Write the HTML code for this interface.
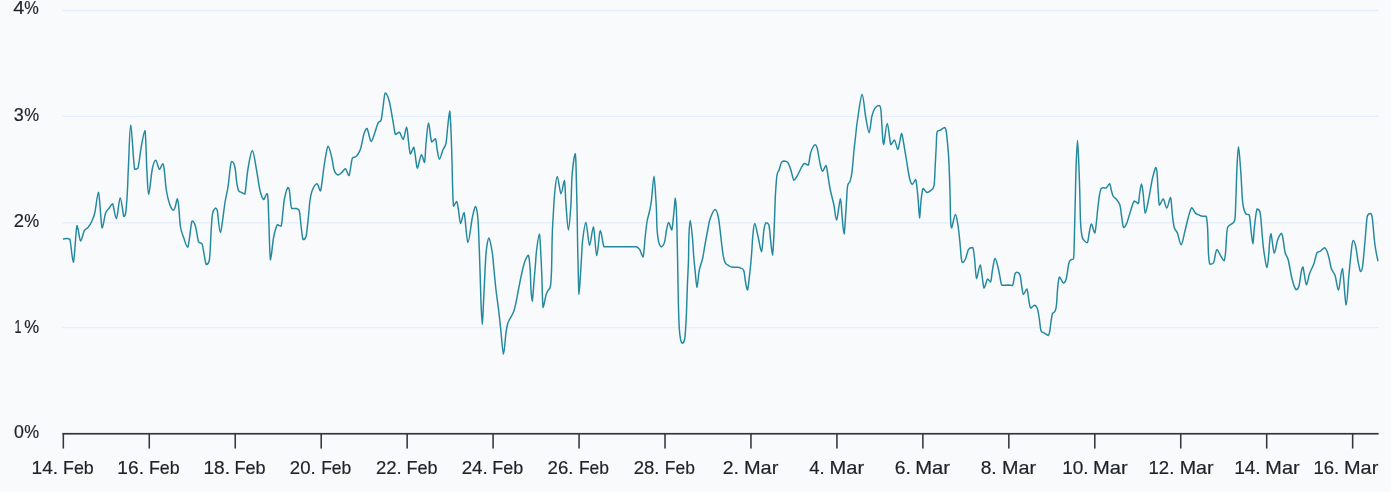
<!DOCTYPE html>
<html lang="en"><head><meta charset="utf-8"><title>Chart</title>
<style>
html,body{margin:0;padding:0;background:#f9fafc;overflow:hidden}
svg{display:block;will-change:transform}
text{font-family:"Liberation Sans",sans-serif;font-size:18.5px;fill:#1d2329;stroke:#1d2329;stroke-width:0.2px}
</style></head><body>
<svg width="1391" height="492" viewBox="0 0 1391 492">
<rect width="1391" height="492" fill="#f9fafc"/>
<rect x="62.5" y="9.85" width="1316" height="1.3" fill="#e5eefb"/>
<rect x="62.5" y="115.75" width="1316" height="1.3" fill="#e5eefb"/>
<rect x="62.5" y="222.20" width="1316" height="1.3" fill="#e5eefb"/>
<rect x="62.5" y="326.95" width="1316" height="1.3" fill="#e5eefb"/>
<text x="13.36" y="13.90" textLength="11.08" lengthAdjust="spacingAndGlyphs">4</text><text x="24.30" y="13.90" textLength="14.51" lengthAdjust="spacingAndGlyphs">%</text>
<text x="13.75" y="121.10" textLength="10.01" lengthAdjust="spacingAndGlyphs">3</text><text x="24.30" y="121.10" textLength="14.89" lengthAdjust="spacingAndGlyphs">%</text>
<text x="13.76" y="227.00" textLength="10.26" lengthAdjust="spacingAndGlyphs">2</text><text x="24.30" y="227.00" textLength="14.89" lengthAdjust="spacingAndGlyphs">%</text>
<text x="14.61" y="333.00" textLength="6.97" lengthAdjust="spacingAndGlyphs">1</text><text x="24.30" y="333.00" textLength="14.89" lengthAdjust="spacingAndGlyphs">%</text>
<text x="14.10" y="438.10" textLength="9.88" lengthAdjust="spacingAndGlyphs">0</text><text x="24.30" y="438.10" textLength="14.89" lengthAdjust="spacingAndGlyphs">%</text>
<rect x="62.5" y="432.9" width="1316.1" height="1.7" fill="#33373c"/>
<rect x="62.55" y="433" width="1.55" height="15.55" fill="#33373c"/>
<rect x="148.50" y="433" width="1.55" height="15.55" fill="#33373c"/>
<rect x="234.46" y="433" width="1.55" height="15.55" fill="#33373c"/>
<rect x="320.42" y="433" width="1.55" height="15.55" fill="#33373c"/>
<rect x="406.37" y="433" width="1.55" height="15.55" fill="#33373c"/>
<rect x="492.32" y="433" width="1.55" height="15.55" fill="#33373c"/>
<rect x="578.28" y="433" width="1.55" height="15.55" fill="#33373c"/>
<rect x="664.24" y="433" width="1.55" height="15.55" fill="#33373c"/>
<rect x="750.19" y="433" width="1.55" height="15.55" fill="#33373c"/>
<rect x="836.15" y="433" width="1.55" height="15.55" fill="#33373c"/>
<rect x="922.10" y="433" width="1.55" height="15.55" fill="#33373c"/>
<rect x="1008.06" y="433" width="1.55" height="15.55" fill="#33373c"/>
<rect x="1094.01" y="433" width="1.55" height="15.55" fill="#33373c"/>
<rect x="1179.96" y="433" width="1.55" height="15.55" fill="#33373c"/>
<rect x="1265.92" y="433" width="1.55" height="15.55" fill="#33373c"/>
<rect x="1351.88" y="433" width="1.55" height="15.55" fill="#33373c"/>
<text x="31.54" y="474" textLength="26.52" lengthAdjust="spacingAndGlyphs">14.</text><text x="63.03" y="474" textLength="30.72" lengthAdjust="spacingAndGlyphs">Feb</text>
<text x="117.35" y="474" textLength="26.60" lengthAdjust="spacingAndGlyphs">16.</text><text x="148.88" y="474" textLength="30.73" lengthAdjust="spacingAndGlyphs">Feb</text>
<text x="203.40" y="474" textLength="26.59" lengthAdjust="spacingAndGlyphs">18.</text><text x="234.53" y="474" textLength="31.14" lengthAdjust="spacingAndGlyphs">Feb</text>
<text x="289.88" y="474" textLength="25.90" lengthAdjust="spacingAndGlyphs">20.</text><text x="321.20" y="474" textLength="30.12" lengthAdjust="spacingAndGlyphs">Feb</text>
<text x="375.94" y="474" textLength="25.80" lengthAdjust="spacingAndGlyphs">22.</text><text x="406.46" y="474" textLength="31.13" lengthAdjust="spacingAndGlyphs">Feb</text>
<text x="461.65" y="474" textLength="26.20" lengthAdjust="spacingAndGlyphs">24.</text><text x="492.28" y="474" textLength="30.96" lengthAdjust="spacingAndGlyphs">Feb</text>
<text x="547.60" y="474" textLength="25.92" lengthAdjust="spacingAndGlyphs">26.</text><text x="578.93" y="474" textLength="30.07" lengthAdjust="spacingAndGlyphs">Feb</text>
<text x="633.73" y="474" textLength="25.80" lengthAdjust="spacingAndGlyphs">28.</text><text x="664.80" y="474" textLength="30.06" lengthAdjust="spacingAndGlyphs">Feb</text>
<text x="722.80" y="474" textLength="16.11" lengthAdjust="spacingAndGlyphs">2.</text><text x="743.95" y="474" textLength="34.39" lengthAdjust="spacingAndGlyphs">Mar</text>
<text x="809.32" y="474" textLength="15.41" lengthAdjust="spacingAndGlyphs">4.</text><text x="829.60" y="474" textLength="34.62" lengthAdjust="spacingAndGlyphs">Mar</text>
<text x="894.83" y="474" textLength="16.13" lengthAdjust="spacingAndGlyphs">6.</text><text x="915.25" y="474" textLength="34.86" lengthAdjust="spacingAndGlyphs">Mar</text>
<text x="980.71" y="474" textLength="16.00" lengthAdjust="spacingAndGlyphs">8.</text><text x="1001.90" y="474" textLength="34.10" lengthAdjust="spacingAndGlyphs">Mar</text>
<text x="1062.16" y="474" textLength="26.42" lengthAdjust="spacingAndGlyphs">10.</text><text x="1093.05" y="474" textLength="34.63" lengthAdjust="spacingAndGlyphs">Mar</text>
<text x="1148.51" y="474" textLength="25.91" lengthAdjust="spacingAndGlyphs">12.</text><text x="1179.70" y="474" textLength="33.87" lengthAdjust="spacingAndGlyphs">Mar</text>
<text x="1234.17" y="474" textLength="26.52" lengthAdjust="spacingAndGlyphs">14.</text><text x="1265.35" y="474" textLength="34.25" lengthAdjust="spacingAndGlyphs">Mar</text>
<text x="1313.38" y="474" textLength="25.85" lengthAdjust="spacingAndGlyphs">16.</text><text x="1344.00" y="474" textLength="34.29" lengthAdjust="spacingAndGlyphs">Mar</text>
<path d="M63.00 239.20 C63.55 239.10 65.15 238.60 66.30 238.60 C67.45 238.63 68.72 238.60 69.90 239.40 C71.08 243.34 72.22 262.25 73.40 262.25 C74.58 259.95 75.80 229.14 77.00 225.60 C78.20 225.60 79.38 240.17 80.60 241.00 C81.82 241.00 83.07 232.85 84.30 230.60 C85.53 228.35 86.78 228.98 88.00 227.50 C89.22 226.02 90.45 224.20 91.60 221.70 C92.75 219.20 93.75 217.41 94.90 212.50 C96.05 207.59 97.30 192.25 98.50 192.25 C99.70 194.85 100.92 224.64 102.10 228.10 C103.28 228.10 104.40 216.35 105.60 213.00 C106.80 209.65 108.13 209.54 109.30 208.00 C110.47 206.46 111.42 203.75 112.60 203.75 C113.78 205.52 115.13 218.60 116.40 218.60 C117.67 217.64 118.97 198.35 120.20 198.00 C121.43 198.00 122.90 213.92 123.80 216.50 C124.70 216.50 125.02 216.50 125.60 213.50 C126.18 209.58 126.82 201.08 127.30 193.00 C127.78 184.92 127.93 176.33 128.50 165.00 C129.07 153.67 129.68 125.00 130.70 125.00 C131.72 125.70 133.38 162.05 134.60 169.20 C135.82 169.20 136.87 169.20 138.00 167.90 C139.13 164.03 140.23 152.22 141.40 146.00 C142.57 139.78 144.08 130.60 145.00 130.60 C145.92 134.77 146.28 160.37 146.90 171.00 C147.52 181.63 147.80 194.40 148.70 194.40 C149.60 194.07 151.13 174.69 152.30 169.00 C153.47 163.31 154.52 160.25 155.70 160.25 C156.88 160.30 158.22 168.72 159.40 169.30 C160.58 169.30 161.97 163.75 162.80 163.75 C163.63 164.03 163.82 166.62 164.40 171.00 C164.98 175.38 165.43 184.50 166.30 190.00 C167.17 195.50 168.45 200.62 169.60 204.00 C170.75 207.38 172.27 209.75 173.20 210.25 C174.13 210.25 174.52 208.92 175.20 207.00 C175.88 205.08 176.70 198.75 177.30 198.75 C177.90 198.83 178.27 202.79 178.80 207.50 C179.33 212.21 179.67 221.90 180.50 227.00 C181.33 232.10 182.58 234.72 183.80 238.10 C185.02 241.47 186.43 247.25 187.80 247.25 C189.17 244.42 190.73 224.64 192.00 221.10 C193.27 221.10 194.30 222.53 195.40 226.00 C196.50 229.47 197.50 238.93 198.60 241.90 C199.70 243.80 201.13 242.03 202.00 243.80 C202.87 245.57 203.10 249.07 203.80 252.50 C204.50 255.93 205.27 263.15 206.20 264.40 C207.13 264.40 208.57 264.40 209.40 260.00 C210.23 254.27 210.67 237.75 211.20 230.00 C211.73 222.25 211.90 217.15 212.60 213.50 C213.30 209.85 214.62 208.60 215.40 208.10 C216.18 208.10 216.47 208.10 217.30 210.50 C218.13 214.57 219.12 232.50 220.40 232.50 C221.68 231.17 223.72 210.21 225.00 202.50 C226.28 194.79 227.23 192.00 228.10 186.25 C228.97 180.50 229.59 172.12 230.20 168.00 C230.81 163.88 230.97 161.67 231.75 161.50 C232.53 161.50 234.07 163.50 234.90 167.00 C235.73 170.50 236.13 178.57 236.75 182.50 C237.37 186.43 237.76 188.93 238.60 190.60 C239.44 192.27 240.75 191.93 241.80 192.50 C242.85 193.07 243.87 194.00 244.90 194.00 C245.93 190.04 246.75 175.98 248.00 168.75 C249.25 161.52 250.94 150.60 252.40 150.60 C253.86 151.02 255.50 164.68 256.75 171.25 C258.00 177.82 258.76 185.29 259.90 190.00 C261.04 194.71 262.46 198.88 263.60 199.50 C264.74 199.50 266.02 193.83 266.75 193.75 C267.48 193.75 267.62 193.75 268.00 199.00 C268.38 204.38 268.58 215.83 269.00 226.00 C269.42 236.17 269.73 258.08 270.50 260.00 C271.27 260.00 272.45 243.38 273.60 237.50 C274.75 231.62 276.15 226.62 277.40 224.75 C278.65 224.75 280.17 226.25 281.10 226.25 C282.03 224.00 282.45 215.79 283.00 211.25 C283.55 206.71 283.61 202.96 284.40 199.00 C285.19 195.04 286.94 189.10 287.75 187.50 C288.56 187.50 288.79 187.50 289.25 189.40 C289.71 191.65 290.08 197.82 290.50 201.00 C290.92 204.18 290.82 207.25 291.75 208.50 C292.68 208.50 294.85 208.50 296.10 208.50 C297.35 208.85 298.42 208.50 299.25 210.60 C300.08 213.56 300.46 221.42 301.10 226.25 C301.74 231.08 302.27 237.93 303.10 239.60 C303.93 239.60 305.18 239.60 306.10 236.25 C307.02 232.15 307.97 220.88 308.60 215.00 C309.23 209.12 309.27 205.17 309.90 201.00 C310.53 196.83 311.22 192.88 312.40 190.00 C313.58 187.12 315.65 183.75 317.00 183.75 C318.35 183.92 319.29 191.00 320.50 191.00 C321.71 187.88 323.00 172.46 324.25 165.00 C325.50 157.54 326.75 147.50 328.00 146.25 C329.25 146.25 330.71 153.44 331.75 157.50 C332.79 161.56 333.21 167.68 334.25 170.60 C335.29 173.52 336.75 174.68 338.00 175.00 C339.25 175.00 340.50 173.54 341.75 172.50 C343.00 171.46 344.29 168.75 345.50 168.75 C346.71 169.27 347.85 175.60 349.00 175.60 C350.15 173.82 351.22 161.28 352.40 158.10 C353.58 156.50 354.85 157.75 356.10 156.50 C357.35 155.25 359.00 152.52 359.90 150.60 C360.80 148.68 360.77 147.92 361.50 145.00 C362.23 142.08 363.32 135.85 364.25 133.10 C365.18 130.35 365.96 128.50 367.10 128.50 C368.24 129.88 369.80 140.73 371.10 141.40 C372.40 141.40 373.75 135.55 374.90 132.50 C376.05 129.45 376.97 125.18 378.00 123.10 C379.03 121.02 380.27 122.60 381.10 120.00 C381.93 117.40 382.31 111.98 383.00 107.50 C383.69 103.02 384.21 94.14 385.25 93.10 C386.29 93.10 387.96 96.56 389.25 101.25 C390.54 105.94 391.96 115.72 393.00 121.25 C394.04 126.78 394.43 132.58 395.50 134.40 C396.57 134.40 398.11 132.20 399.40 132.20 C400.69 133.03 402.05 139.40 403.25 139.40 C404.45 138.58 405.73 127.25 406.60 127.25 C407.48 127.56 407.87 136.79 408.50 141.25 C409.13 145.71 409.52 153.00 410.40 154.00 C411.27 154.00 412.82 147.25 413.75 147.25 C414.68 148.42 415.38 157.53 416.00 161.00 C416.62 164.47 416.60 168.10 417.50 168.10 C418.40 167.06 420.23 155.68 421.40 154.75 C422.57 154.75 423.73 162.50 424.50 162.50 C425.27 160.67 425.33 150.32 426.00 143.75 C426.67 137.18 427.57 123.41 428.50 123.10 C429.43 123.10 430.45 139.29 431.60 141.90 C432.75 141.90 434.46 138.75 435.40 138.75 C436.34 140.10 436.58 146.59 437.25 150.00 C437.92 153.41 438.46 159.20 439.40 159.20 C440.34 159.20 441.80 152.68 442.90 150.00 C444.00 147.32 445.17 147.27 446.00 143.10 C446.83 138.93 447.27 130.35 447.90 125.00 C448.52 119.65 449.23 111.00 449.75 111.00 C450.27 112.04 450.62 122.92 451.00 131.25 C451.38 139.58 451.73 151.83 452.00 161.00 C452.27 170.17 452.33 178.71 452.60 186.25 C452.87 193.79 452.93 203.71 453.60 206.25 C454.27 206.25 455.78 201.50 456.60 201.50 C457.42 202.12 457.83 206.33 458.50 210.00 C459.17 213.67 459.67 223.07 460.60 223.50 C461.53 223.50 462.88 212.60 464.10 212.60 C465.32 215.77 466.54 241.60 467.90 242.50 C469.26 242.50 471.00 224.00 472.25 218.00 C473.50 212.00 474.56 207.33 475.40 206.50 C476.24 206.50 476.78 209.29 477.30 213.00 C477.82 216.71 478.05 219.25 478.50 228.75 C478.95 238.25 479.58 257.71 480.00 270.00 C480.42 282.29 480.62 293.42 481.00 302.50 C481.38 311.58 481.88 324.50 482.30 324.50 C482.72 324.50 483.12 309.92 483.50 302.50 C483.88 295.08 484.25 287.08 484.60 280.00 C484.95 272.92 485.27 265.33 485.60 260.00 C485.93 254.67 486.05 251.67 486.60 248.00 C487.15 244.33 487.96 238.00 488.90 238.00 C489.84 238.75 491.40 247.17 492.25 252.50 C493.10 257.83 493.38 263.75 494.00 270.00 C494.62 276.25 495.25 283.50 496.00 290.00 C496.75 296.50 497.73 302.67 498.50 309.00 C499.27 315.33 499.77 320.50 500.60 328.00 C501.43 335.50 502.62 353.10 503.50 354.00 C504.38 354.00 505.22 338.40 505.90 333.40 C506.58 328.40 507.00 326.32 507.60 324.00 C508.20 321.68 508.52 321.50 509.50 319.50 C510.48 317.50 512.42 314.83 513.50 312.00 C514.58 309.17 515.07 306.79 516.00 302.50 C516.93 298.21 518.02 291.67 519.10 286.25 C520.18 280.83 521.45 274.38 522.50 270.00 C523.55 265.62 524.40 262.46 525.40 260.00 C526.40 257.54 527.70 255.25 528.50 255.25 C529.30 256.92 529.78 264.21 530.20 270.00 C530.62 275.79 530.66 284.79 531.00 290.00 C531.34 295.21 531.73 301.25 532.25 301.25 C532.77 299.58 533.58 286.04 534.10 280.00 C534.62 273.96 534.98 270.00 535.40 265.00 C535.82 260.00 535.93 255.17 536.60 250.00 C537.27 244.83 538.67 234.00 539.40 234.00 C540.13 235.25 540.60 250.67 541.00 257.50 C541.40 264.33 541.45 266.67 541.80 275.00 C542.15 283.33 542.40 304.17 543.10 307.50 C543.80 307.50 545.20 297.82 546.00 295.00 C546.80 292.18 547.17 292.06 547.90 290.60 C548.63 289.14 549.80 289.52 550.40 286.25 C551.00 282.98 551.19 279.54 551.50 271.00 C551.81 262.46 551.97 244.17 552.25 235.00 C552.53 225.83 552.78 223.08 553.20 216.00 C553.62 208.92 554.08 199.08 554.75 192.50 C555.42 185.92 556.21 176.50 557.25 176.50 C558.29 176.71 559.81 193.08 561.00 193.75 C562.19 193.75 563.57 180.50 564.40 180.50 C565.23 182.38 565.33 196.75 566.00 205.00 C566.67 213.25 567.58 230.00 568.40 230.00 C569.22 230.00 570.28 214.17 570.90 205.00 C571.52 195.83 571.38 183.54 572.10 175.00 C572.83 166.46 574.53 153.75 575.25 153.75 C575.97 154.75 576.09 171.46 576.40 181.00 C576.71 190.54 576.90 200.75 577.10 211.00 C577.30 221.25 577.43 233.33 577.60 242.50 C577.77 251.67 577.87 257.38 578.10 266.00 C578.33 274.62 578.58 293.12 579.00 294.20 C579.42 294.20 580.17 278.87 580.60 272.50 C581.03 266.13 581.27 261.33 581.60 256.00 C581.93 250.67 581.88 246.08 582.60 240.50 C583.32 234.92 584.73 222.50 585.90 222.50 C587.07 223.29 588.35 244.52 589.60 245.25 C590.85 245.25 592.21 226.90 593.40 226.90 C594.59 228.62 595.61 254.98 596.75 255.60 C597.89 255.60 599.06 232.08 600.25 230.60 C601.44 230.60 602.69 244.02 603.90 246.70 C605.11 246.70 606.30 246.70 607.50 246.70 C608.70 246.70 609.90 246.70 611.10 246.70 C612.30 246.70 613.50 246.70 614.70 246.70 C615.90 246.70 617.10 246.70 618.30 246.70 C619.50 246.70 620.70 246.70 621.90 246.70 C623.10 246.70 624.30 246.70 625.50 246.70 C626.70 246.70 627.90 246.70 629.10 246.70 C630.30 246.70 631.47 246.70 632.70 246.70 C633.93 246.70 635.35 246.70 636.50 246.70 C637.65 247.15 638.50 247.70 639.60 249.40 C640.70 251.10 642.16 256.90 643.10 256.90 C644.04 254.71 644.58 242.19 645.25 236.25 C645.92 230.31 646.38 225.46 647.10 221.25 C647.83 217.04 648.87 214.54 649.60 211.00 C650.33 207.46 650.77 205.79 651.50 200.00 C652.23 194.21 653.27 176.25 654.00 176.25 C654.73 176.25 655.48 194.21 655.90 200.00 C656.32 205.79 656.30 206.00 656.50 211.00 C656.70 216.00 656.68 224.65 657.10 230.00 C657.52 235.35 658.27 240.32 659.00 243.10 C659.73 245.88 660.57 246.70 661.50 246.70 C662.43 246.50 663.77 244.68 664.60 241.90 C665.43 239.12 665.81 233.23 666.50 230.00 C667.19 226.77 667.88 222.50 668.75 222.50 C669.62 222.50 670.88 230.00 671.75 230.00 C672.62 228.12 673.42 216.57 674.00 211.25 C674.58 205.93 674.85 198.14 675.25 198.10 C675.65 198.10 676.09 204.64 676.40 211.00 C676.71 217.36 676.90 228.08 677.10 236.25 C677.30 244.42 677.38 248.75 677.60 260.00 C677.82 271.25 678.12 292.30 678.40 303.75 C678.68 315.20 678.92 322.66 679.30 328.70 C679.68 334.74 680.15 337.58 680.70 340.00 C681.25 342.42 681.93 343.20 682.60 343.20 C683.27 343.03 684.20 341.42 684.70 339.00 C685.20 336.58 685.30 333.20 685.60 328.70 C685.90 324.20 686.20 319.28 686.50 312.00 C686.80 304.72 687.07 293.67 687.40 285.00 C687.73 276.33 688.25 268.12 688.50 260.00 C688.75 251.88 688.61 242.82 688.90 236.25 C689.19 229.68 689.67 220.60 690.25 220.60 C690.83 220.72 691.82 231.10 692.40 237.00 C692.98 242.90 693.23 250.21 693.70 256.00 C694.17 261.79 694.65 266.48 695.20 271.75 C695.75 277.02 696.37 287.60 697.00 287.60 C697.63 287.60 698.35 275.65 699.00 271.75 C699.65 267.85 700.28 266.49 700.90 264.20 C701.52 261.91 701.97 261.53 702.70 258.00 C703.43 254.47 704.40 248.00 705.30 243.00 C706.20 238.00 707.28 232.08 708.10 228.00 C708.92 223.92 709.05 221.58 710.20 218.50 C711.35 215.42 713.63 209.67 715.00 209.50 C716.37 209.50 717.32 212.00 718.40 217.50 C719.48 223.00 720.72 236.25 721.50 242.50 C722.28 248.75 722.58 251.92 723.10 255.00 C723.62 258.08 724.13 259.54 724.60 261.00 C725.07 262.46 725.17 262.95 725.90 263.75 C726.63 264.55 728.07 265.26 729.00 265.80 C729.93 266.34 730.08 266.75 731.50 267.00 C732.92 267.25 735.98 267.12 737.50 267.30 C739.02 267.48 739.56 267.55 740.60 268.10 C741.64 268.65 742.92 268.20 743.75 270.60 C744.58 273.00 744.98 279.27 745.60 282.50 C746.23 285.73 746.77 290.00 747.50 290.00 C748.23 288.12 749.30 277.50 750.00 271.25 C750.70 265.00 751.23 258.38 751.70 252.50 C752.17 246.62 752.29 240.83 752.80 236.00 C753.31 231.17 753.84 223.50 754.75 223.50 C755.66 223.75 757.12 232.80 758.25 237.50 C759.38 242.20 760.56 251.70 761.50 251.70 C762.44 250.45 763.15 234.82 763.90 230.00 C764.65 225.18 765.17 223.58 766.00 222.75 C766.83 222.75 768.13 222.75 768.90 225.00 C769.67 227.88 770.00 235.00 770.60 240.00 C771.20 245.00 771.95 255.00 772.50 255.00 C773.05 254.17 773.47 243.75 773.90 235.00 C774.33 226.25 774.82 209.67 775.10 202.50 C775.38 195.33 775.28 196.58 775.60 192.00 C775.92 187.42 776.39 178.77 777.00 175.00 C777.61 171.23 778.52 171.48 779.25 169.40 C779.98 167.32 780.62 163.90 781.40 162.50 C782.17 161.10 782.87 161.04 783.90 161.00 C784.93 161.00 786.50 161.00 787.60 162.25 C788.70 163.54 789.45 165.75 790.50 168.75 C791.55 171.75 792.82 179.00 793.90 180.25 C794.98 180.25 795.86 178.17 797.00 176.25 C798.14 174.33 799.54 170.88 800.75 168.75 C801.96 166.62 803.00 164.08 804.25 163.50 C805.50 163.50 807.17 165.25 808.25 165.25 C809.33 163.42 809.64 155.92 810.75 152.50 C811.86 149.08 813.82 145.50 814.90 144.75 C815.98 144.75 816.33 144.83 817.20 148.00 C818.07 151.17 819.20 159.88 820.10 163.75 C821.00 167.62 821.62 170.94 822.60 171.25 C823.58 171.25 825.06 165.60 826.00 165.60 C826.94 166.64 827.57 173.60 828.25 177.50 C828.93 181.40 829.16 184.42 830.10 189.00 C831.04 193.58 832.82 199.83 833.90 205.00 C834.98 210.17 835.52 220.00 836.60 220.00 C837.68 218.96 839.50 199.58 840.40 198.75 C841.30 198.75 841.38 209.12 842.00 215.00 C842.62 220.88 843.37 234.00 844.10 234.00 C844.83 232.00 845.82 211.00 846.40 203.00 C846.98 195.00 846.98 189.65 847.60 186.00 C848.22 182.35 849.37 183.43 850.10 181.10 C850.83 178.77 851.37 176.97 852.00 172.00 C852.63 167.03 853.32 157.08 853.90 151.25 C854.48 145.42 854.90 142.21 855.50 137.00 C856.10 131.79 856.40 127.10 857.50 120.00 C858.60 112.90 860.75 95.03 862.10 94.40 C863.45 94.40 864.43 109.86 865.60 116.25 C866.77 122.64 868.05 132.75 869.10 132.75 C870.15 132.75 870.92 120.36 871.90 116.25 C872.88 112.14 873.75 109.88 875.00 108.10 C876.25 106.32 878.42 105.60 879.40 105.60 C880.38 105.92 880.38 105.60 880.90 110.00 C881.42 114.90 882.03 129.25 882.50 135.00 C882.97 140.75 882.91 144.50 883.70 144.50 C884.49 142.58 886.07 123.50 887.25 123.50 C888.43 123.52 889.61 141.85 890.80 144.60 C891.99 144.60 893.23 140.00 894.40 140.00 C895.57 140.82 896.95 149.00 897.80 149.50 C898.65 149.50 898.88 145.67 899.50 143.00 C900.12 140.33 900.90 134.00 901.50 133.50 C902.10 133.50 902.31 135.79 903.10 140.00 C903.89 144.21 905.20 152.50 906.25 158.75 C907.30 165.00 908.40 173.22 909.40 177.50 C910.40 181.78 911.22 184.08 912.25 184.40 C913.28 184.40 914.77 179.40 915.60 179.40 C916.43 180.33 916.78 186.07 917.25 190.00 C917.72 193.93 918.01 198.33 918.40 203.00 C918.79 207.67 919.17 218.00 919.60 218.00 C920.03 217.67 920.42 205.92 921.00 201.00 C921.58 196.08 922.12 189.92 923.10 188.50 C924.08 188.50 925.65 192.15 926.90 192.50 C928.15 192.50 929.42 191.75 930.60 190.60 C931.78 189.45 933.23 189.87 934.00 185.60 C934.77 181.33 934.87 171.77 935.25 165.00 C935.63 158.23 935.99 150.52 936.30 145.00 C936.61 139.48 936.38 134.40 937.10 131.90 C937.82 130.00 939.35 130.73 940.60 130.00 C941.85 129.27 943.67 127.50 944.60 127.50 C945.53 127.67 945.72 128.42 946.20 131.00 C946.68 133.58 947.08 138.38 947.50 143.00 C947.92 147.62 948.33 150.58 948.75 158.75 C949.17 166.92 949.69 181.79 950.00 192.00 C950.31 202.21 950.33 214.00 950.60 220.00 C950.87 226.00 950.80 228.00 951.60 228.00 C952.40 227.07 954.32 214.69 955.40 214.40 C956.48 214.40 957.33 221.48 958.10 226.25 C958.87 231.02 959.48 237.79 960.00 243.00 C960.52 248.21 960.83 254.25 961.25 257.50 C961.67 260.75 961.77 262.29 962.50 262.50 C963.23 262.50 964.60 260.93 965.60 258.75 C966.60 256.57 967.33 251.29 968.50 249.40 C969.67 247.51 971.62 247.40 972.60 247.40 C973.58 248.67 973.73 251.82 974.40 257.00 C975.07 262.18 975.62 277.17 976.60 278.50 C977.58 278.50 979.02 265.00 980.25 265.00 C981.48 266.60 982.79 285.77 984.00 288.10 C985.21 288.10 986.40 280.03 987.50 279.00 C988.60 279.00 989.77 281.90 990.60 281.90 C991.43 280.40 991.77 273.90 992.50 270.00 C993.23 266.10 994.07 258.92 995.00 258.50 C995.93 258.50 997.06 263.29 998.10 267.50 C999.14 271.71 1000.52 280.79 1001.25 283.75 C1001.98 285.25 1001.36 285.04 1002.50 285.25 C1003.64 285.25 1006.43 285.00 1008.10 285.00 C1009.77 285.06 1011.35 285.60 1012.50 285.60 C1013.65 283.73 1014.27 275.98 1015.00 273.75 C1015.73 272.25 1016.07 272.25 1016.90 272.25 C1017.73 272.46 1019.17 272.46 1020.00 275.00 C1020.83 277.54 1021.32 284.27 1021.90 287.50 C1022.48 290.73 1022.67 294.15 1023.50 294.40 C1024.33 294.40 1025.98 289.00 1026.90 289.00 C1027.82 290.13 1028.37 298.00 1029.00 301.20 C1029.63 304.40 1029.78 307.52 1030.70 308.20 C1031.62 308.20 1033.38 305.30 1034.50 305.30 C1035.62 305.38 1036.62 306.58 1037.40 308.70 C1038.18 310.82 1038.72 315.02 1039.20 318.00 C1039.68 320.98 1039.98 324.43 1040.30 326.60 C1040.62 328.77 1040.75 330.07 1041.10 331.00 C1041.45 331.93 1041.78 331.82 1042.40 332.20 C1043.02 332.58 1043.83 332.75 1044.80 333.30 C1045.77 333.85 1047.42 335.50 1048.25 335.50 C1049.08 335.12 1049.39 332.92 1049.80 331.00 C1050.21 329.08 1050.35 326.50 1050.70 324.00 C1051.05 321.50 1051.58 317.75 1051.90 316.00 C1052.22 314.25 1052.05 314.33 1052.60 313.50 C1053.15 312.67 1054.53 312.58 1055.20 311.00 C1055.87 309.42 1056.22 307.50 1056.60 304.00 C1056.98 300.50 1057.03 294.52 1057.50 290.00 C1057.97 285.48 1058.42 278.05 1059.40 276.90 C1060.38 276.90 1062.26 282.79 1063.40 283.10 C1064.54 283.10 1065.36 281.98 1066.25 278.75 C1067.14 275.52 1068.03 266.88 1068.75 263.75 C1069.47 260.62 1069.81 260.83 1070.60 260.00 C1071.39 259.17 1072.88 260.00 1073.50 258.75 C1074.12 255.42 1074.07 247.29 1074.30 240.00 C1074.53 232.71 1074.70 223.33 1074.90 215.00 C1075.10 206.67 1075.30 198.12 1075.50 190.00 C1075.70 181.88 1075.77 174.48 1076.10 166.25 C1076.43 158.02 1077.03 140.60 1077.50 140.60 C1077.97 140.60 1078.52 157.52 1078.90 166.25 C1079.28 174.98 1079.53 183.83 1079.80 193.00 C1080.07 202.17 1080.13 214.04 1080.50 221.25 C1080.87 228.46 1081.38 233.03 1082.00 236.25 C1082.62 239.47 1083.35 239.52 1084.25 240.60 C1085.15 241.68 1086.53 242.75 1087.40 242.75 C1088.28 241.19 1088.82 234.38 1089.50 231.25 C1090.18 228.12 1090.60 224.00 1091.50 224.00 C1092.40 224.31 1093.82 233.10 1094.90 233.10 C1095.98 230.14 1097.23 212.60 1098.00 206.25 C1098.77 199.90 1098.98 197.92 1099.50 195.00 C1100.02 192.08 1100.42 189.96 1101.10 188.75 C1101.78 187.75 1102.77 187.86 1103.60 187.75 C1104.43 187.75 1105.12 188.10 1106.10 188.10 C1107.08 187.43 1108.60 183.75 1109.50 183.75 C1110.40 184.23 1110.88 188.92 1111.50 191.00 C1112.12 193.08 1112.43 194.92 1113.20 196.25 C1113.97 197.58 1114.98 197.54 1116.10 199.00 C1117.22 200.46 1118.96 201.92 1119.90 205.00 C1120.84 208.08 1121.13 213.75 1121.75 217.50 C1122.37 221.25 1122.77 226.57 1123.60 227.50 C1124.43 227.50 1125.60 225.81 1126.75 223.10 C1127.90 220.39 1129.25 214.93 1130.50 211.25 C1131.75 207.57 1132.96 202.29 1134.25 201.00 C1135.54 201.00 1137.34 203.50 1138.25 203.50 C1139.16 202.17 1139.16 196.25 1139.70 193.00 C1140.24 189.75 1140.93 184.00 1141.50 184.00 C1142.07 184.00 1142.47 188.15 1143.10 193.00 C1143.72 197.85 1144.43 211.52 1145.25 213.10 C1146.07 213.10 1147.24 205.85 1148.00 202.50 C1148.76 199.15 1149.07 196.96 1149.80 193.00 C1150.53 189.04 1151.41 183.00 1152.40 178.75 C1153.39 174.50 1154.98 168.54 1155.75 167.50 C1156.52 167.50 1156.58 168.25 1157.00 172.50 C1157.42 176.75 1157.88 187.54 1158.30 193.00 C1158.72 198.46 1158.67 204.25 1159.50 205.25 C1160.33 205.25 1162.04 199.00 1163.25 199.00 C1164.46 199.47 1165.54 208.10 1166.75 208.10 C1167.96 207.85 1169.56 197.50 1170.50 197.50 C1171.44 198.65 1171.78 210.00 1172.40 215.00 C1173.03 220.00 1173.42 224.48 1174.25 227.50 C1175.08 230.52 1176.24 230.22 1177.40 233.10 C1178.56 235.98 1179.95 244.80 1181.20 244.80 C1182.45 244.49 1183.67 236.01 1184.90 231.25 C1186.13 226.49 1187.46 220.17 1188.60 216.25 C1189.74 212.33 1190.60 208.28 1191.75 207.75 C1192.90 207.75 1194.25 211.89 1195.50 213.10 C1196.75 214.31 1198.10 214.47 1199.25 215.00 C1200.40 215.53 1201.26 216.04 1202.40 216.25 C1203.54 216.25 1205.23 216.25 1206.10 216.25 C1206.97 218.21 1207.20 221.76 1207.60 228.00 C1208.00 234.24 1208.12 247.67 1208.50 253.70 C1208.88 259.73 1209.05 262.72 1209.90 264.20 C1210.75 264.20 1212.67 264.20 1213.60 262.60 C1214.53 260.85 1214.92 255.87 1215.50 253.70 C1216.08 251.53 1216.17 249.60 1217.10 249.60 C1218.03 250.07 1219.93 254.65 1221.10 256.50 C1222.27 258.35 1223.35 260.70 1224.10 260.70 C1224.85 259.95 1225.12 256.95 1225.60 252.00 C1226.08 247.05 1226.50 235.33 1227.00 231.00 C1227.50 226.67 1227.63 227.32 1228.60 226.00 C1229.57 224.68 1231.75 224.23 1232.80 223.10 C1233.85 221.97 1234.42 222.38 1234.90 219.20 C1235.38 216.02 1235.47 209.37 1235.70 204.00 C1235.93 198.63 1236.10 192.83 1236.30 187.00 C1236.50 181.17 1236.54 175.68 1236.90 169.00 C1237.26 162.32 1237.81 146.90 1238.45 146.90 C1239.09 147.28 1240.11 162.73 1240.75 171.25 C1241.39 179.77 1241.84 191.96 1242.30 198.00 C1242.76 204.04 1242.92 204.88 1243.50 207.50 C1244.08 210.12 1244.79 212.50 1245.75 213.75 C1246.71 215.00 1248.38 213.75 1249.25 215.00 C1250.12 217.71 1250.39 225.20 1251.00 230.00 C1251.61 234.80 1252.32 243.80 1252.90 243.80 C1253.48 243.18 1253.82 232.05 1254.50 226.25 C1255.18 220.45 1256.07 211.29 1257.00 209.00 C1257.93 209.00 1259.27 209.00 1260.10 212.50 C1260.93 216.42 1261.40 226.25 1262.00 232.50 C1262.60 238.75 1262.88 244.17 1263.70 250.00 C1264.52 255.83 1266.05 266.88 1266.90 267.50 C1267.75 267.50 1268.35 257.87 1268.80 253.70 C1269.25 249.53 1269.23 245.82 1269.60 242.50 C1269.97 239.18 1270.22 233.75 1271.00 233.75 C1271.78 235.50 1273.20 251.96 1274.30 253.00 C1275.40 253.00 1276.42 243.25 1277.60 240.00 C1278.78 236.75 1280.50 233.71 1281.40 233.50 C1282.30 233.50 1282.38 235.58 1283.00 238.75 C1283.62 241.92 1284.22 248.96 1285.10 252.50 C1285.97 256.04 1287.10 255.62 1288.25 260.00 C1289.40 264.38 1290.71 273.79 1292.00 278.75 C1293.29 283.71 1294.85 288.50 1296.00 289.75 C1297.15 289.75 1298.00 289.33 1298.90 286.25 C1299.80 283.17 1300.72 274.48 1301.40 271.25 C1302.08 268.02 1302.17 266.90 1303.00 266.90 C1303.83 269.15 1305.32 283.61 1306.40 284.75 C1307.48 284.75 1308.25 277.25 1309.50 273.75 C1310.75 270.25 1312.65 267.27 1313.90 263.75 C1315.15 260.23 1315.90 254.69 1317.00 252.60 C1318.10 251.20 1319.25 252.01 1320.50 251.20 C1321.75 250.39 1323.42 247.75 1324.50 247.75 C1325.58 247.76 1326.27 249.62 1327.00 251.25 C1327.73 252.88 1328.17 254.58 1328.90 257.50 C1329.63 260.42 1330.37 265.73 1331.40 268.75 C1332.43 271.77 1333.92 272.06 1335.10 275.60 C1336.28 279.14 1337.28 290.00 1338.50 290.00 C1339.72 288.82 1341.13 268.50 1342.40 268.50 C1343.67 271.00 1345.02 303.92 1346.10 305.00 C1347.18 305.00 1347.96 284.67 1348.90 275.00 C1349.84 265.33 1351.03 252.73 1351.75 247.00 C1352.47 241.27 1352.58 240.65 1353.25 240.60 C1353.92 240.60 1354.92 243.05 1355.75 246.70 C1356.58 250.35 1357.46 258.37 1358.25 262.50 C1359.04 266.63 1359.78 270.88 1360.50 271.50 C1361.22 271.50 1361.83 271.50 1362.60 266.25 C1363.37 261.00 1364.32 248.34 1365.10 240.00 C1365.88 231.66 1366.38 220.63 1367.30 216.20 C1368.22 213.40 1369.77 213.40 1370.60 213.40 C1371.43 213.70 1371.69 213.78 1372.30 218.00 C1372.91 222.22 1373.67 233.42 1374.25 238.75 C1374.83 244.08 1375.12 246.25 1375.75 250.00 C1376.38 253.75 1377.62 259.38 1378.00 261.25" fill="none" stroke="#24899e" stroke-width="1.47" stroke-linejoin="round" stroke-linecap="butt"/>
</svg>
</body></html>
